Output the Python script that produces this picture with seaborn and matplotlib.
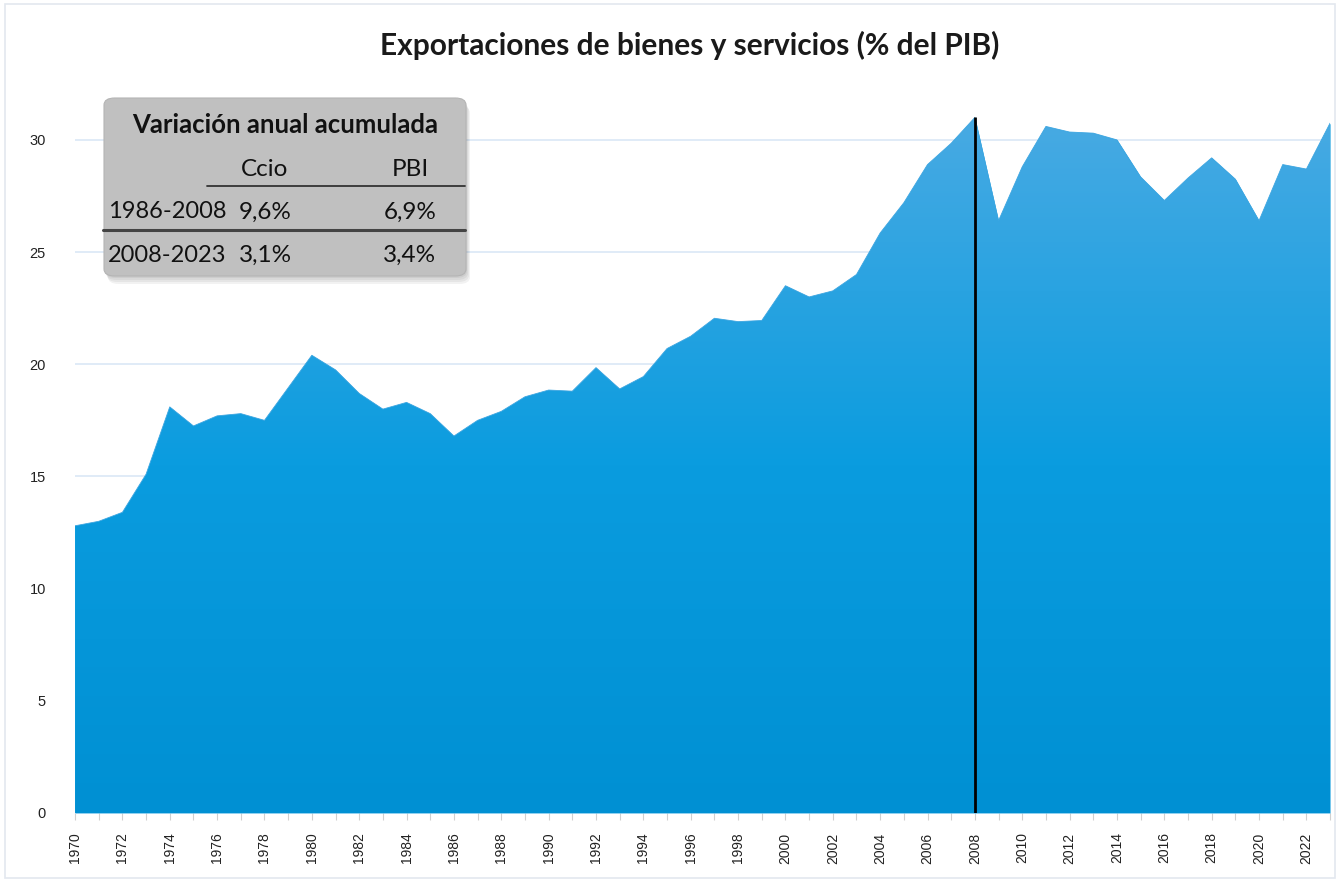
import numpy as np
import pandas as pd
import matplotlib
matplotlib.use('Agg')
import matplotlib.pyplot as plt
import seaborn as sns
from matplotlib.colors import LinearSegmentedColormap
from matplotlib.patches import FancyBboxPatch, Rectangle

# datos
years = list(range(1970, 2024))
exports = [12.8, 13.0, 13.4, 15.1, 18.1, 17.25, 17.7, 17.8, 17.5, 18.95,
           20.4, 19.75, 18.7, 18.0, 18.3, 17.8, 16.8, 17.5, 17.9, 18.55,
           18.85, 18.8, 19.85, 18.9, 19.45, 20.7, 21.25, 22.05, 21.9, 21.95,
           23.5, 23.0, 23.27, 24.0, 25.85, 27.2, 28.9, 29.85, 31.0, 26.4,
           28.8, 30.6, 30.35, 30.3, 30.0, 28.35, 27.3, 28.3, 29.2, 28.25,
           26.4, 28.9, 28.7, 30.75]
mark_year = 2008

tabla_cols = ['Ccio', 'PBI']
tabla_rows = ['1986-2008', '2008-2023']
tabla_vals = [['9,6%', '6,9%'], ['3,1%', '3,4%']]

df = pd.DataFrame({'anio': years, 'export': exports})

sns.set_theme(style='white')
plt.rcParams['font.family'] = ['Liberation Sans', 'DejaVu Sans']

fig = plt.figure(figsize=(13.4, 8.83), dpi=100)
ax = fig.add_axes([0.056, 0.0793, 0.9366, 0.8131])

# area con degradado
poly = ax.fill_between(df['anio'], 0, df['export'], color='#1aa0e0', lw=0, zorder=2)
sns.lineplot(data=df, x='anio', y='export', ax=ax, color='#3ea6e1', lw=0.6, zorder=3)
cmap = LinearSegmentedColormap.from_list('azul', ['#0090d3', '#0a9cdf', '#48aae3'])
grad = np.linspace(0, 1, 256).reshape(-1, 1)
im = ax.imshow(grad, extent=[years[0], years[-1], 0, max(exports)], origin='lower',
               aspect='auto', cmap=cmap, zorder=2.5)
path = poly.get_paths()[0]
im.set_clip_path(path, transform=ax.transData)

ax.vlines(mark_year, 0, exports[years.index(mark_year)], color='black', lw=2, zorder=4)

ax.set_xlim(years[0], years[-1])
ax.set_ylim(0, 32)
ax.set_yticks(range(0, 31, 5))
ax.set_xticks(years)
ax.set_xticklabels([str(y) if y % 2 == 0 else '' for y in years], rotation=90, fontsize=10)
ax.tick_params(axis='y', length=0, pad=21, labelsize=10.5, labelcolor='#222222')
ax.tick_params(axis='x', length=5, width=0.8, color='#d0d0d0', pad=9, bottom=True,
               labelcolor='#222222')
ax.yaxis.grid(True, color='#dde9f7', lw=1.3, zorder=0)
ax.xaxis.grid(False)
ax.set_axisbelow(True)
for s in ax.spines.values():
    s.set_visible(False)
ax.set_xlabel('')
ax.set_ylabel('')

fig.text(0.515, 0.949, 'Exportaciones de bienes y servicios (% del PIB)', ha='center', va='center',
         fontsize=21.5, fontweight='bold', family=['Lato', 'DejaVu Sans'], color='#1a1a1a')

# marco de la imagen
fig.patches.append(Rectangle((0.004, 0.006), 0.992, 0.99, transform=fig.transFigure,
                             facecolor='none', edgecolor='#e3e8ef', lw=1.2, zorder=0))

# cuadro resumen
W, H = 1340, 883
def fx(x): return x / W
def fy(y): return 1 - y / H

for i, a in enumerate([0.05, 0.05, 0.05, 0.05]):
    off = 2 + i * 2
    sh = FancyBboxPatch((fx(104 + off * 0.5), fy(276 + off)), fx(362), fy(0) - fy(178),
                        boxstyle='round,pad=0,rounding_size=0.008', transform=fig.transFigure,
                        facecolor='black', edgecolor='none', alpha=a, zorder=5)
    fig.patches.append(sh)
box = FancyBboxPatch((fx(104), fy(276)), fx(362), fy(0) - fy(178),
                     boxstyle='round,pad=0,rounding_size=0.008', transform=fig.transFigure,
                     facecolor='#c0c0c0', edgecolor='#b4b4b4', lw=0.8, zorder=6)
fig.patches.append(box)

tfont = ['Lato', 'DejaVu Sans']
fig.text(fx(285), fy(125), 'Variación anual acumulada', ha='center', va='center',
         fontsize=18.5, fontweight='bold', family=tfont, color='#111111', zorder=7)
col_x = [265, 410]
for cx, c in zip(col_x, tabla_cols):
    fig.text(fx(cx), fy(170), c, ha='center', va='center', fontsize=17.5, family=tfont,
             color='#111111', zorder=7)
fig.add_artist(plt.Line2D([fx(207), fx(465)], [fy(186), fy(186)], color='#333333', lw=1.3,
                          transform=fig.transFigure, zorder=7))
row_y = [212, 255]
for ry, r, vals in zip(row_y, tabla_rows, tabla_vals):
    fig.text(fx(108), fy(ry), r, ha='left', va='center', fontsize=17, family=tfont,
             color='#111111', zorder=7)
    for cx, v in zip(col_x, vals):
        fig.text(fx(cx), fy(ry), v, ha='center', va='center', fontsize=17.5, family=tfont,
                 color='#111111', zorder=7)
fig.add_artist(plt.Line2D([fx(103), fx(465)], [fy(230), fy(230)], color='#444444', lw=2.2,
                          transform=fig.transFigure, zorder=7))

fig.savefig('out.png', dpi=100)
